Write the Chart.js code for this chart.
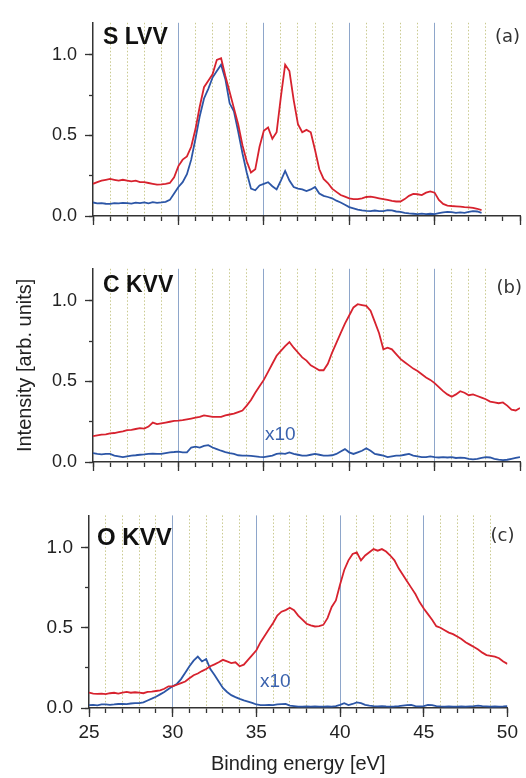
<!DOCTYPE html>
<html>
<head>
<meta charset="utf-8">
<script src="https://cdn.jsdelivr.net/npm/chart.js@4.4.1/dist/chart.umd.min.js"></script>
<style>
  html, body { margin: 0; padding: 0; background: #fff; }
  .panel { position: absolute; left: 0; width: 526px; }
</style>
</head>
<body>
<div class="panel" style="top:0;height:240px"><canvas id="panelA"></canvas></div>
<div class="panel" style="top:246px;height:240px"><canvas id="panelB"></canvas></div>
<div class="panel" style="top:492px;height:286px"><canvas id="panelC"></canvas></div>
<script>
// binding energy (eV)
var energy = [
  25, 25.25, 25.5, 25.75, 26, 26.25, 26.5, 26.75,
  27, 27.25, 27.5, 27.75, 28, 28.25, 28.5, 28.75,
  29, 29.25, 29.5, 29.75, 30, 30.25, 30.5, 30.75,
  31, 31.25, 31.5, 31.75, 32, 32.25, 32.5, 32.75,
  33, 33.25, 33.5, 33.75, 34, 34.25, 34.5, 34.75,
  35, 35.25, 35.5, 35.75, 36, 36.25, 36.5, 36.75,
  37, 37.25, 37.5, 37.75, 38, 38.25, 38.5, 38.75,
  39, 39.25, 39.5, 39.75, 40, 40.25, 40.5, 40.75,
  41, 41.25, 41.5, 41.75, 42, 42.25, 42.5, 42.75,
  43, 43.25, 43.5, 43.75, 44, 44.25, 44.5, 44.75,
  45, 45.25, 45.5, 45.75, 46, 46.25, 46.5, 46.75,
  47, 47.25, 47.5, 47.75, 48, 48.25, 48.5, 48.75,
  49, 49.25, 49.5, 49.75, 50
];

// (a) S LVV
var sRed = [
  0.20, 0.21, 0.22, 0.225, 0.23, 0.225, 0.22, 0.225,
  0.22, 0.215, 0.22, 0.21, 0.21, 0.205, 0.20, 0.195,
  0.196, 0.20, 0.205, 0.24, 0.31, 0.35, 0.37, 0.43,
  0.54, 0.68, 0.80, 0.84, 0.88, 0.97, 0.98, 0.87,
  0.77, 0.67, 0.57, 0.44, 0.34, 0.27, 0.29, 0.43,
  0.53, 0.55, 0.48, 0.52, 0.74, 0.94, 0.90, 0.72,
  0.57, 0.52, 0.535, 0.52, 0.41, 0.29, 0.23, 0.205,
  0.17, 0.15, 0.13, 0.12, 0.11, 0.105, 0.105, 0.11,
  0.118, 0.12, 0.115, 0.11, 0.105, 0.10, 0.094, 0.09,
  0.09, 0.105, 0.125, 0.137, 0.135, 0.13, 0.145, 0.153,
  0.145, 0.10, 0.075, 0.065, 0.062, 0.06, 0.058, 0.055,
  0.053, 0.05, 0.045, 0.037
];
var sBlue = [
  0.084, 0.078, 0.08, 0.076, 0.075, 0.08, 0.078, 0.082,
  0.08, 0.077, 0.083, 0.08, 0.084, 0.079, 0.086, 0.082,
  0.084, 0.088, 0.10, 0.14, 0.18, 0.21, 0.26, 0.35,
  0.48, 0.62, 0.73, 0.79, 0.86, 0.90, 0.94, 0.85,
  0.70, 0.65, 0.525, 0.39, 0.27, 0.17, 0.16, 0.19,
  0.20, 0.21, 0.185, 0.165, 0.22, 0.28, 0.22, 0.18,
  0.17, 0.165, 0.155, 0.165, 0.18, 0.14, 0.125, 0.118,
  0.11, 0.095, 0.084, 0.07, 0.055, 0.048, 0.04, 0.035,
  0.032, 0.03, 0.034, 0.03, 0.03, 0.037, 0.035, 0.028,
  0.025, 0.02, 0.016, 0.014, 0.012, 0.015, 0.012, 0.014,
  0.012, 0.018, 0.022, 0.025, 0.024, 0.02, 0.022, 0.02,
  0.025, 0.03, 0.028, 0.02
];

// (b) C KVV
var cRed = [
  0.16, 0.165, 0.17, 0.172, 0.178, 0.18, 0.185, 0.19,
  0.198, 0.20, 0.205, 0.21, 0.207, 0.22, 0.245, 0.235,
  0.24, 0.245, 0.25, 0.255, 0.257, 0.26, 0.265, 0.27,
  0.275, 0.28, 0.29, 0.285, 0.28, 0.28, 0.28, 0.29,
  0.295, 0.30, 0.31, 0.32, 0.35, 0.385, 0.43, 0.47,
  0.51, 0.56, 0.61, 0.66, 0.69, 0.72, 0.745, 0.71,
  0.68, 0.65, 0.63, 0.60, 0.585, 0.57, 0.57, 0.61,
  0.68, 0.74, 0.80, 0.86, 0.91, 0.96, 0.98, 0.975,
  0.97, 0.94, 0.87, 0.80, 0.70, 0.71, 0.70, 0.67,
  0.64, 0.62, 0.60, 0.58, 0.565, 0.545, 0.525, 0.51,
  0.49, 0.465, 0.44, 0.42, 0.405, 0.42, 0.44, 0.43,
  0.415, 0.42, 0.41, 0.40, 0.39, 0.375, 0.37, 0.365,
  0.37, 0.35, 0.325, 0.32, 0.335
];
var cBlue = [
  0.055, 0.05, 0.047, 0.05, 0.05, 0.04, 0.035, 0.03,
  0.035, 0.04, 0.042, 0.045, 0.047, 0.05, 0.052, 0.05,
  0.05, 0.055, 0.06, 0.062, 0.065, 0.06, 0.06, 0.09,
  0.095, 0.09, 0.10, 0.105, 0.09, 0.08, 0.07, 0.062,
  0.055, 0.05, 0.042, 0.04, 0.04, 0.038, 0.035, 0.032,
  0.03, 0.035, 0.04, 0.05, 0.053, 0.05, 0.06, 0.05,
  0.045, 0.04, 0.04, 0.045, 0.05, 0.045, 0.04, 0.04,
  0.042, 0.05, 0.065, 0.08, 0.06, 0.05, 0.06, 0.07,
  0.085, 0.07, 0.05, 0.045, 0.04, 0.03, 0.035, 0.04,
  0.04, 0.045, 0.05, 0.04, 0.035, 0.03, 0.03, 0.035,
  0.03, 0.028, 0.03, 0.028, 0.03, 0.025, 0.027, 0.025,
  0.02, 0.016, 0.02, 0.025, 0.03, 0.028, 0.02, 0.015,
  0.012, 0.014, 0.02, 0.025, 0.03
];

// (c) O KVV
var oRed = [
  0.096, 0.09, 0.088, 0.09, 0.086, 0.092, 0.095, 0.09,
  0.096, 0.10, 0.095, 0.098, 0.096, 0.092, 0.10, 0.102,
  0.106, 0.11, 0.12, 0.135, 0.135, 0.145, 0.155, 0.165,
  0.185, 0.204, 0.215, 0.23, 0.243, 0.26, 0.272, 0.285,
  0.30, 0.29, 0.28, 0.285, 0.26, 0.27, 0.30, 0.33,
  0.36, 0.41, 0.45, 0.49, 0.53, 0.576, 0.60, 0.61,
  0.625, 0.61, 0.576, 0.55, 0.525, 0.515, 0.508, 0.51,
  0.518, 0.56, 0.63, 0.67, 0.77, 0.86, 0.92, 0.96,
  0.97, 0.92, 0.95, 0.97, 0.99, 0.98, 0.99, 0.975,
  0.95, 0.92, 0.87, 0.83, 0.79, 0.75, 0.71, 0.66,
  0.62, 0.585, 0.55, 0.51, 0.50, 0.485, 0.47, 0.46,
  0.445, 0.43, 0.41, 0.395, 0.38, 0.365, 0.345, 0.33,
  0.325, 0.32, 0.31, 0.29, 0.275
];
var oBlue = [
  0.018, 0.02, 0.016, 0.022, 0.023, 0.02, 0.022, 0.025,
  0.026, 0.024, 0.028, 0.03, 0.03, 0.035, 0.047, 0.058,
  0.07, 0.085, 0.10, 0.118, 0.135, 0.15, 0.18, 0.22,
  0.26, 0.295, 0.32, 0.29, 0.305, 0.243, 0.205, 0.165,
  0.125, 0.10, 0.08, 0.068, 0.057, 0.047, 0.04, 0.032,
  0.022, 0.018, 0.018, 0.02, 0.018, 0.022, 0.024, 0.026,
  0.015, 0.012, 0.008, 0.008, 0.01, 0.008, 0.01, 0.008,
  0.009, 0.01, 0.008, 0.012, 0.02, 0.03, 0.018, 0.025,
  0.035, 0.03, 0.02, 0.015, 0.012, 0.01, 0.012, 0.01,
  0.009, 0.01, 0.012, 0.015, 0.018, 0.02, 0.012, 0.01,
  0.012, 0.02, 0.018, 0.012, 0.01, 0.009, 0.01, 0.008,
  0.009, 0.01, 0.008, 0.01, 0.012, 0.015, 0.012, 0.01,
  0.008, 0.01, 0.009, 0.01, 0.012
];

var RED = '#d7222e';
var BLUE = '#2c56a6';
var AXIS = '#333';

Chart.defaults.font.family = '"Liberation Sans", Arial, sans-serif';
Chart.defaults.color = '#222';

// small text labels inside the plot area
var notesPlugin = {
  id: 'notes',
  afterDraw: function (chart, args, opts) {
    var ctx = chart.ctx, a = chart.chartArea;
    (opts.items || []).forEach(function (n) {
      ctx.save();
      ctx.font = n.font;
      ctx.fillStyle = n.color;
      ctx.textAlign = n.align || 'left';
      ctx.textBaseline = 'alphabetic';
      var x = n.fromRight ? a.right + n.dx : a.left + n.dx;
      var y = n.fromBottom ? a.bottom + n.dy : a.top + n.dy;
      ctx.fillText(n.text, x, y);
      ctx.restore();
    });
  }
};

function toPoints(vals) {
  return vals.map(function (v, i) { return {x: energy[i], y: v}; });
}

function makePanel(id, red, blue, p) {
  var lastDotted = p.lastDotted;
  new Chart(document.getElementById(id), {
    type: 'line',
    data: {
      datasets: [
        {data: toPoints(red), borderColor: RED, borderWidth: 1.8, pointRadius: 0, xAxisID: 'x', yAxisID: 'y'},
        {data: toPoints(blue), borderColor: BLUE, borderWidth: 1.8, pointRadius: 0, xAxisID: 'x', yAxisID: 'y'}
      ]
    },
    options: {
      responsive: true,
      maintainAspectRatio: false,
      animation: false,
      layout: {padding: {top: 12, right: p.padRight, left: 0, bottom: 0}},
      plugins: {
        legend: {display: false},
        tooltip: {enabled: false},
        notes: {items: p.notes}
      },
      scales: {
        x: {
          type: 'linear', position: 'bottom', min: 25, max: 50,
          afterFit: function (s) { s.height = p.xHeight; },
          ticks: {
            display: p.showX, stepSize: 1, autoSkip: false, maxRotation: 0,
            padding: 8, color: '#222',
            font: {size: p.fontSize},
            callback: function (v) { return v % 5 === 0 ? String(v) : ''; }
          },
          grid: {
            lineWidth: 1,
            color: function (c) {
              var v = c.tick ? c.tick.value : null;
              if (v === null || v === 25 || v === 50 || v > lastDotted) return 'rgba(0,0,0,0)';
              return v % 5 === 0 ? '#8ea6ca' : '#c9c98e';
            },
            tickColor: AXIS, tickWidth: 1.3, tickLength: 5
          },
          border: {
            display: true, color: AXIS, width: 1.5,
            dash: function (c) { return c.tick && c.tick.value % 5 !== 0 ? [1.5, 2] : []; }
          },
          title: {
            display: p.showX, text: 'Binding energy [eV]', color: '#222',
            font: {size: 20}, padding: {top: 0, bottom: 2}
          }
        },
        xMajor: {
          type: 'linear', axis: 'x', position: {y: 0}, min: 25, max: 50,
          ticks: {display: false, stepSize: 5},
          grid: {drawOnChartArea: false, tickColor: AXIS, tickWidth: 1.3, tickLength: 9},
          border: {display: false}
        },
        y: {
          type: 'linear', position: 'left', min: 0, max: 1.2,
          afterFit: function (s) { s.width = p.axisLeft; },
          ticks: {
            stepSize: 0.25, includeBounds: false, padding: 12, color: '#222',
            font: {size: p.fontSize},
            callback: function (v) {
              return Math.abs(v * 2 - Math.round(v * 2)) < 1e-6 ? v.toFixed(1) : '';
            }
          },
          grid: {drawOnChartArea: false, tickColor: AXIS, tickWidth: 1.3, tickLength: 4},
          border: {display: true, color: AXIS, width: 1.5},
          title: {
            display: !!p.yTitle, text: p.yTitle || '', color: '#222',
            font: {size: 20}, padding: {top: 13, bottom: 0}
          }
        },
        yMajor: {
          type: 'linear', axis: 'y', position: {x: 25}, min: 0, max: 1.2,
          ticks: {display: false, stepSize: 0.5, includeBounds: false},
          grid: {drawOnChartArea: false, tickColor: AXIS, tickWidth: 1.3, tickLength: 8},
          border: {display: false}
        }
      }
    },
    plugins: [notesPlugin]
  });
}

makePanel('panelA', sRed, sBlue, {
  axisLeft: 93, padRight: 6, xHeight: 24, fontSize: 18, showX: false, lastDotted: 48,
  notes: [
    {text: 'S LVV', font: 'bold 23px "Liberation Sans", Arial', color: '#111', dx: 10, dy: 21},
    {text: '(a)', font: '18px "DejaVu Sans", sans-serif', color: '#333', align: 'right', fromRight: true, dx: 0, dy: 19}
  ]
});

makePanel('panelB', cRed, cBlue, {
  axisLeft: 93, padRight: 6, xHeight: 24, fontSize: 18, showX: false, lastDotted: 48,
  yTitle: 'Intensity [arb. units]',
  notes: [
    {text: 'C KVV', font: 'bold 23px "Liberation Sans", Arial', color: '#111', dx: 10, dy: 23},
    {text: '(b)', font: '18px "DejaVu Sans", sans-serif', color: '#333', align: 'right', fromRight: true, dx: 2, dy: 24},
    {text: 'x10', font: '19px "Liberation Sans", Arial', color: '#3a62ad', dx: 172, fromBottom: true, dy: -22}
  ]
});

makePanel('panelC', oRed, oBlue, {
  axisLeft: 89, padRight: 11, xHeight: 70, fontSize: 19, showX: true, lastDotted: 49,
  notes: [
    {text: 'O KVV', font: 'bold 24px "Liberation Sans", Arial', color: '#111', dx: 8, dy: 30},
    {text: '(c)', font: '18px "DejaVu Sans", sans-serif', color: '#333', align: 'right', fromRight: true, dx: 7, dy: 26},
    {text: 'x10', font: '19px "Liberation Sans", Arial', color: '#3a62ad', dx: 171, fromBottom: true, dy: -21}
  ]
});
</script>
</body>
</html>
